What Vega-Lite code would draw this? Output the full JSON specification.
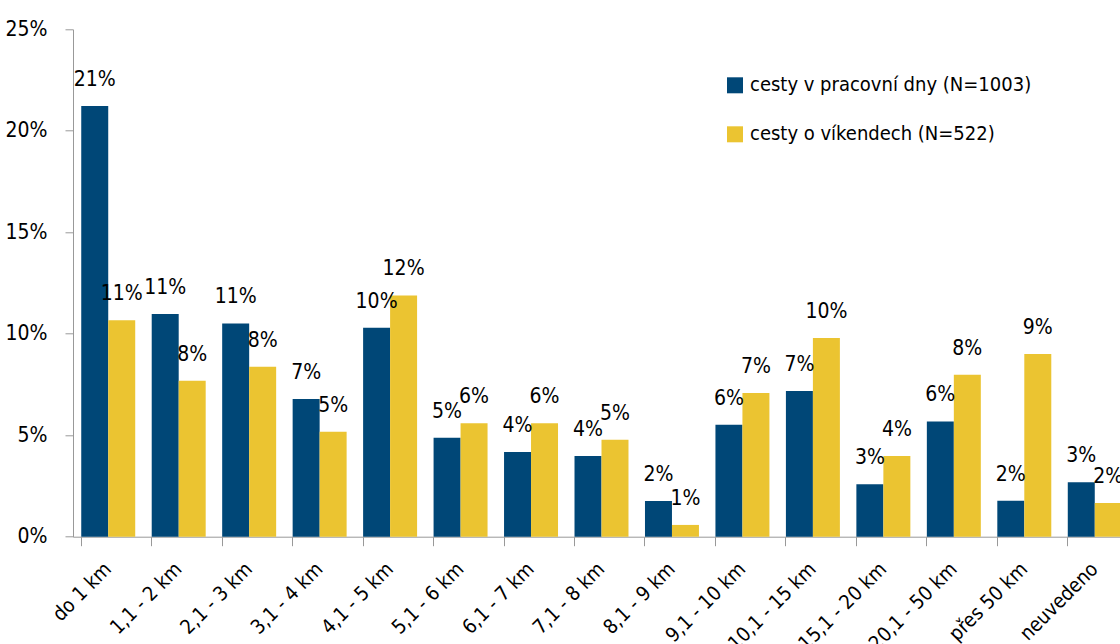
{
  "$schema": "https://vega.github.io/schema/vega-lite/v6.json",
  "width": 1047,
  "height": 507.4,
  "autosize": {"type": "none"},
  "padding": {"left": 73, "top": 29.3, "right": 0, "bottom": 107.3},
  "config": {
    "font": "DejaVu Sans Condensed, sans-serif",
    "view": {"stroke": null}
  },
  "data": {
    "values": [
      {"kategorie": "do 1 km", "typ": "cesty v pracovní dny (N=1003)", "podil": 0.2122},
      {"kategorie": "do 1 km", "typ": "cesty o víkendech (N=522)", "podil": 0.1067},
      {"kategorie": "1,1 - 2 km", "typ": "cesty v pracovní dny (N=1003)", "podil": 0.1097},
      {"kategorie": "1,1 - 2 km", "typ": "cesty o víkendech (N=522)", "podil": 0.0768},
      {"kategorie": "2,1 - 3 km", "typ": "cesty v pracovní dny (N=1003)", "podil": 0.1051},
      {"kategorie": "2,1 - 3 km", "typ": "cesty o víkendech (N=522)", "podil": 0.0837},
      {"kategorie": "3,1 - 4 km", "typ": "cesty v pracovní dny (N=1003)", "podil": 0.0678},
      {"kategorie": "3,1 - 4 km", "typ": "cesty o víkendech (N=522)", "podil": 0.0517},
      {"kategorie": "4,1 - 5 km", "typ": "cesty v pracovní dny (N=1003)", "podil": 0.1030},
      {"kategorie": "4,1 - 5 km", "typ": "cesty o víkendech (N=522)", "podil": 0.1189},
      {"kategorie": "5,1 - 6 km", "typ": "cesty v pracovní dny (N=1003)", "podil": 0.0488},
      {"kategorie": "5,1 - 6 km", "typ": "cesty o víkendech (N=522)", "podil": 0.0559},
      {"kategorie": "6,1 - 7 km", "typ": "cesty v pracovní dny (N=1003)", "podil": 0.0417},
      {"kategorie": "6,1 - 7 km", "typ": "cesty o víkendech (N=522)", "podil": 0.0559},
      {"kategorie": "7,1 - 8 km", "typ": "cesty v pracovní dny (N=1003)", "podil": 0.0398},
      {"kategorie": "7,1 - 8 km", "typ": "cesty o víkendech (N=522)", "podil": 0.0478},
      {"kategorie": "8,1 - 9 km", "typ": "cesty v pracovní dny (N=1003)", "podil": 0.0176},
      {"kategorie": "8,1 - 9 km", "typ": "cesty o víkendech (N=522)", "podil": 0.0058},
      {"kategorie": "9,1 - 10 km", "typ": "cesty v pracovní dny (N=1003)", "podil": 0.0552},
      {"kategorie": "9,1 - 10 km", "typ": "cesty o víkendech (N=522)", "podil": 0.0708},
      {"kategorie": "10,1 - 15 km", "typ": "cesty v pracovní dny (N=1003)", "podil": 0.0718},
      {"kategorie": "10,1 - 15 km", "typ": "cesty o víkendech (N=522)", "podil": 0.0979},
      {"kategorie": "15,1 - 20 km", "typ": "cesty v pracovní dny (N=1003)", "podil": 0.0258},
      {"kategorie": "15,1 - 20 km", "typ": "cesty o víkendech (N=522)", "podil": 0.0398},
      {"kategorie": "20,1 - 50 km", "typ": "cesty v pracovní dny (N=1003)", "podil": 0.0568},
      {"kategorie": "20,1 - 50 km", "typ": "cesty o víkendech (N=522)", "podil": 0.0798},
      {"kategorie": "přes 50 km", "typ": "cesty v pracovní dny (N=1003)", "podil": 0.0177},
      {"kategorie": "přes 50 km", "typ": "cesty o víkendech (N=522)", "podil": 0.0900},
      {"kategorie": "neuvedeno", "typ": "cesty v pracovní dny (N=1003)", "podil": 0.0268},
      {"kategorie": "neuvedeno", "typ": "cesty o víkendech (N=522)", "podil": 0.0166}
    ]
  },
  "encoding": {
    "x": {
      "field": "kategorie",
      "type": "nominal",
      "sort": ["do 1 km", "1,1 - 2 km", "2,1 - 3 km", "3,1 - 4 km", "4,1 - 5 km", "5,1 - 6 km", "6,1 - 7 km", "7,1 - 8 km", "8,1 - 9 km", "9,1 - 10 km", "10,1 - 15 km", "15,1 - 20 km", "20,1 - 50 km", "přes 50 km", "neuvedeno"],
      "scale": {"range": [0, 1057], "paddingInner": 0.234, "paddingOuter": 0.117},
      "axis": {
        "title": null,
        "labelAngle": -45,
        "labelAlign": "right",
        "labelBaseline": "middle",
        "labelFontSize": 20,
        "labelColor": "#000000",
        "labelPadding": 20,
        "tickSize": 9,
        "bandPosition": 0,
        "tickColor": "#999999",
        "domainColor": "#999999",
        "grid": false
      }
    },
    "xOffset": {
      "field": "typ",
      "type": "nominal",
      "sort": ["cesty v pracovní dny (N=1003)", "cesty o víkendech (N=522)"],
      "scale": {"paddingInner": 0, "paddingOuter": 0}
    },
    "y": {
      "field": "podil",
      "type": "quantitative",
      "scale": {"domain": [0, 0.25], "nice": false},
      "axis": {
        "title": null,
        "values": [0, 0.05, 0.1, 0.15, 0.2, 0.25],
        "format": ".0%",
        "grid": false,
        "tickSize": 8,
        "labelPadding": 18,
        "labelFontSize": 21,
        "labelColor": "#000000",
        "tickColor": "#999999",
        "domainColor": "#999999"
      }
    }
  },
  "layer": [
    {
      "mark": {"type": "bar"},
      "encoding": {
        "color": {
          "field": "typ",
          "type": "nominal",
          "scale": {
            "domain": ["cesty v pracovní dny (N=1003)", "cesty o víkendech (N=522)"],
            "range": ["#004777", "#EBC431"]
          },
          "legend": {
            "orient": "none",
            "legendX": 652,
            "legendY": 46,
            "title": null,
            "symbolType": "square",
            "symbolSize": 256,
            "symbolStrokeWidth": 0,
            "labelFontSize": 20,
            "labelColor": "#000000",
            "labelOffset": 5,
            "rowPadding": 29,
            "labelLimit": 400
          }
        }
      }
    },
    {
      "mark": {"type": "text", "baseline": "alphabetic", "dy": -20, "fontSize": 21, "color": "#000000"},
      "encoding": {
        "text": {"field": "podil", "type": "quantitative", "format": ".0%"}
      }
    }
  ]
}
